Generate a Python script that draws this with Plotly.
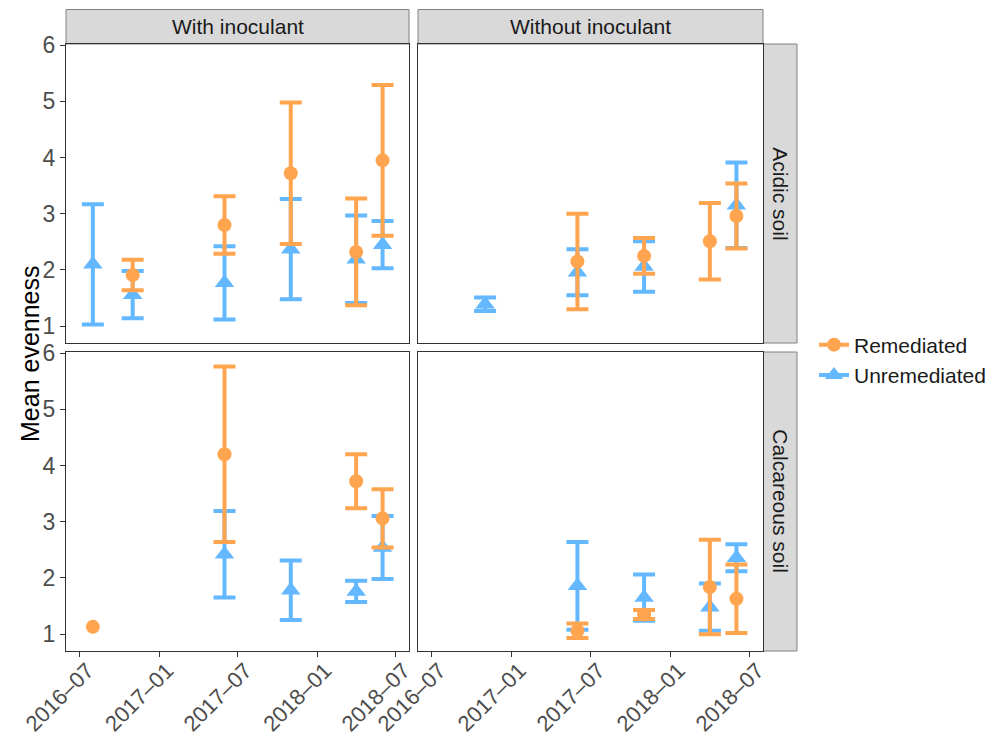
import plotly.graph_objects as go

# ---------------- data ----------------
tick_dates = ["2016-07-01", "2017-01-01", "2017-07-01", "2018-01-01", "2018-07-01"]
tick_labels = ["2016–07", "2017–01", "2017–07", "2018–01", "2018–07"]
y_ticks = [1, 2, 3, 4, 5, 6]

col_labels = ["With inoculant", "Without inoculant"]
row_labels = ["Acidic soil", "Calcareous soil"]

# With inoculant / Acidic soil
wa_rem_dates = ["2016-11-01", "2017-06-01", "2017-11-01", "2018-04-01", "2018-06-01"]
wa_rem_mean = [1.91, 2.80, 3.72, 2.32, 3.95]
wa_rem_se = [0.27, 0.51, 1.26, 0.95, 1.34]
wa_unr_dates = ["2016-08-01", "2016-11-01", "2017-06-01", "2017-11-01", "2018-04-01", "2018-06-01"]
wa_unr_mean = [2.10, 1.56, 1.77, 2.37, 2.19, 2.45]
wa_unr_se = [1.07, 0.42, 0.65, 0.89, 0.78, 0.42]

# Without inoculant / Acidic soil
woa_rem_dates = ["2017-06-01", "2017-11-01", "2018-04-01", "2018-06-01"]
woa_rem_mean = [2.15, 2.25, 2.51, 2.96]
woa_rem_se = [0.85, 0.32, 0.68, 0.58]
woa_unr_dates = ["2016-11-01", "2017-06-01", "2017-11-01", "2018-06-01"]
woa_unr_mean = [1.39, 1.96, 2.06, 3.15]
woa_unr_se = [0.12, 0.41, 0.45, 0.76]

# With inoculant / Calcareous soil
wc_rem_dates = ["2016-08-01", "2017-06-01", "2018-04-01", "2018-06-01"]
wc_rem_mean = [1.13, 4.20, 3.72, 3.06]
wc_rem_se = [None, 1.56, 0.48, 0.52]
wc_unr_dates = ["2017-06-01", "2017-11-01", "2018-04-01", "2018-06-01"]
wc_unr_mean = [2.42, 1.78, 1.76, 2.54]
wc_unr_se = [0.77, 0.53, 0.19, 0.56]

# Without inoculant / Calcareous soil
woc_rem_dates = ["2017-06-01", "2017-11-01", "2018-04-01", "2018-06-01"]
woc_rem_mean = [1.06, 1.35, 1.84, 1.63]
woc_rem_se = [0.13, 0.08, 0.84, 0.61]
woc_unr_dates = ["2017-06-01", "2017-11-01", "2018-04-01", "2018-06-01"]
woc_unr_mean = [1.86, 1.65, 1.48, 2.36]
woc_unr_se = [0.78, 0.41, 0.42, 0.24]

# ---------------- style ----------------
W, H = 990, 744
ORANGE = "#FFA54F"
BLUE = "#63B8FF"
FONT = "Liberation Sans, Arial, Helvetica, sans-serif"
YTICK_FONT = dict(family=FONT, size=23, color="#4D4D4D")
XTICK_FONT = dict(family=FONT, size=22, color="#4D4D4D")

px_x = lambda p: p / W
px_y = lambda p: 1 - p / H

xdom_left = [px_x(66), px_x(409)]
xdom_right = [px_x(418), px_x(763)]
ydom_top = [px_y(343), px_y(44)]
ydom_bot = [px_y(651), px_y(352)]

x_range = ["2016-05-31", "2018-08-01"]
y_range = [0.70, 6.02]

fig = go.Figure()

panels = [
    ("x", "y", wa_rem_dates, wa_rem_mean, wa_rem_se, wa_unr_dates, wa_unr_mean, wa_unr_se),
    ("x2", "y2", woa_rem_dates, woa_rem_mean, woa_rem_se, woa_unr_dates, woa_unr_mean, woa_unr_se),
    ("x3", "y3", wc_rem_dates, wc_rem_mean, wc_rem_se, wc_unr_dates, wc_unr_mean, wc_unr_se),
    ("x4", "y4", woc_rem_dates, woc_rem_mean, woc_rem_se, woc_unr_dates, woc_unr_mean, woc_unr_se),
]

def add_series(xa, ya, dates, means, ses, name, symbol, size, color):
    with_err = [(d, m, s) for d, m, s in zip(dates, means, ses) if s is not None]
    no_err = [(d, m) for d, m, s in zip(dates, means, ses) if s is None]
    if with_err:
        fig.add_trace(go.Scatter(
            x=[t[0] for t in with_err], y=[t[1] for t in with_err], mode="markers",
            name=name, showlegend=False, xaxis=xa, yaxis=ya,
            marker=dict(symbol=symbol, size=size, color=color),
            error_y=dict(type="data", array=[t[2] for t in with_err], visible=True,
                         color=color, thickness=4, width=11),
        ))
    if no_err:
        fig.add_trace(go.Scatter(
            x=[t[0] for t in no_err], y=[t[1] for t in no_err], mode="markers",
            name=name, showlegend=False, xaxis=xa, yaxis=ya,
            marker=dict(symbol=symbol, size=size, color=color),
        ))

for xa, ya, rd, rm, rs, ud, um, us in panels:
    add_series(xa, ya, ud, um, us, "Unremediated", "triangle-up", 17, BLUE)
    add_series(xa, ya, rd, rm, rs, "Remediated", "circle", 14, ORANGE)

# legend-only keys (line through marker, like the ggplot key)
fig.add_trace(go.Scatter(x=[None], y=[None], mode="lines+markers", name="Remediated",
                         legendrank=1, line=dict(color=ORANGE, width=4),
                         marker=dict(symbol="circle", size=14, color=ORANGE)))
fig.add_trace(go.Scatter(x=[None], y=[None], mode="lines+markers", name="Unremediated",
                         legendrank=2, line=dict(color=BLUE, width=4),
                         marker=dict(symbol="triangle-up", size=16, color=BLUE)))

axis_common = dict(showline=True, mirror=True, linecolor="#333333", linewidth=1,
                   showgrid=False, zeroline=False, automargin=False)

def xaxis(dom, anchor, bottom):
    d = dict(axis_common, domain=dom, anchor=anchor, type="date", range=x_range,
             tickmode="array", tickvals=tick_dates, ticktext=tick_labels,
             tickfont=XTICK_FONT, tickangle=-45)
    if bottom:
        d.update(ticks="outside", ticklen=5, tickcolor="#333333", showticklabels=True,
                 ticklabelshift=8, ticklabelstandoff=-8)
    else:
        d.update(ticks="", showticklabels=False)
    return d

def yaxis(dom, anchor, left):
    d = dict(axis_common, domain=dom, anchor=anchor, range=y_range,
             tickmode="array", tickvals=y_ticks, tickfont=YTICK_FONT)
    if left:
        d.update(ticks="outside", ticklen=5, tickcolor="#333333", showticklabels=True)
    else:
        d.update(ticks="", showticklabels=False)
    return d

shapes = []
annotations = []
# top strips
for dom, lab in zip([xdom_left, xdom_right], col_labels):
    shapes.append(dict(type="rect", xref="paper", yref="paper", x0=dom[0], x1=dom[1],
                       y0=px_y(44), y1=px_y(9.5), fillcolor="#D9D9D9",
                       line=dict(color="#808080", width=1), layer="below"))
    annotations.append(dict(text=lab, xref="paper", yref="paper", x=(dom[0] + dom[1]) / 2,
                            y=(px_y(44) + px_y(9.5)) / 2, showarrow=False,
                            font=dict(family=FONT, size=21, color="#1A1A1A"),
                            xanchor="center", yanchor="middle"))
# right strips
for dom, lab in zip([ydom_top, ydom_bot], row_labels):
    shapes.append(dict(type="rect", xref="paper", yref="paper", x0=px_x(763.5), x1=px_x(797),
                       y0=dom[0], y1=dom[1], fillcolor="#D9D9D9",
                       line=dict(color="#808080", width=1), layer="below"))
    annotations.append(dict(text=lab, xref="paper", yref="paper", x=(px_x(763.5) + px_x(797)) / 2,
                            y=(dom[0] + dom[1]) / 2, showarrow=False, textangle=90,
                            font=dict(family=FONT, size=21, color="#1A1A1A"),
                            xanchor="center", yanchor="middle"))
# y title
annotations.append(dict(text="Mean evenness", xref="paper", yref="paper", x=px_x(30),
                        y=px_y(354), showarrow=False, textangle=-90,
                        font=dict(family=FONT, size=25, color="#000000"),
                        xanchor="center", yanchor="middle"))

fig.update_layout(
    width=W, height=H,
    margin=dict(l=0, r=0, t=0, b=0, autoexpand=False),
    paper_bgcolor="white", plot_bgcolor="white",
    font=dict(family=FONT),
    xaxis=xaxis(xdom_left, "y", False),
    yaxis=yaxis(ydom_top, "x", True),
    xaxis2=xaxis(xdom_right, "y2", False),
    yaxis2=yaxis(ydom_top, "x2", False),
    xaxis3=xaxis(xdom_left, "y3", True),
    yaxis3=yaxis(ydom_bot, "x3", True),
    xaxis4=xaxis(xdom_right, "y4", True),
    yaxis4=yaxis(ydom_bot, "x4", False),
    shapes=shapes,
    annotations=annotations,
    showlegend=True,
    legend=dict(x=px_x(814), y=px_y(360), xanchor="left", yanchor="middle",
                font=dict(family=FONT, size=21, color="#1A1A1A"),
                bgcolor="rgba(0,0,0,0)", itemsizing="trace", itemwidth=30,
                tracegroupgap=0),
)

fig.write_html("out.html")
